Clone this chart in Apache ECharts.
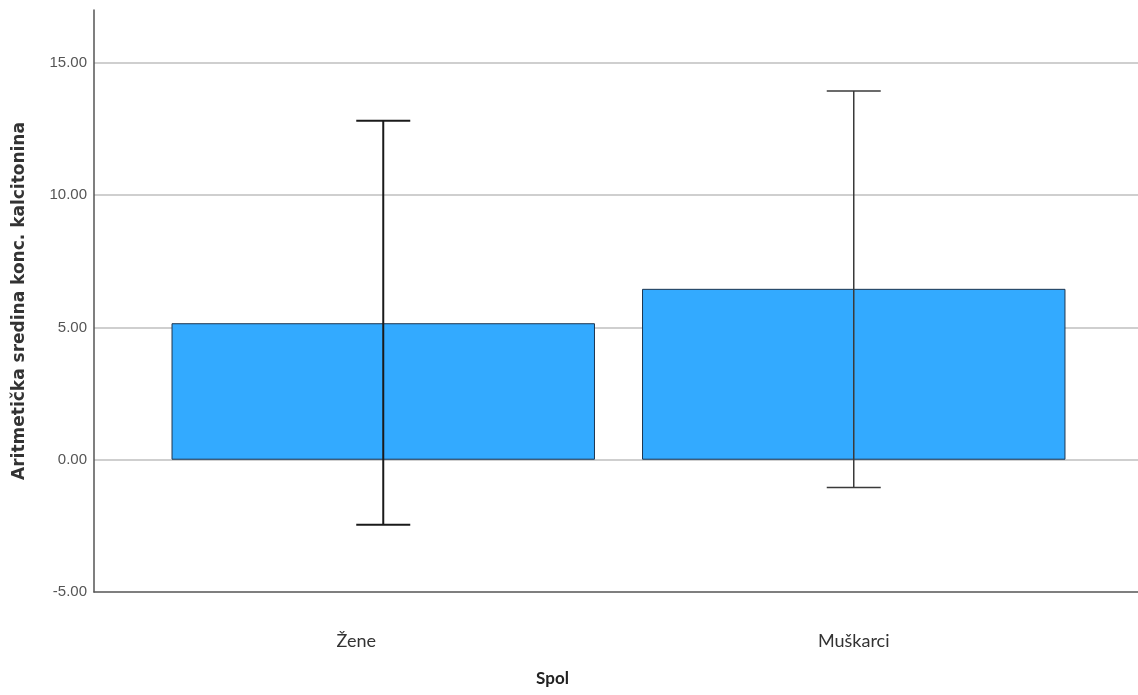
<!DOCTYPE html>
<html>
<head>
<meta charset="utf-8">
<script src="https://cdn.jsdelivr.net/npm/echarts@6/dist/echarts.min.js"></script>
<style>html,body{margin:0;padding:0;background:#fff}#c{width:1138px;height:695px}</style>
</head>
<body>
<div id="c"></div>
<script>
const categories = ['Žene', 'Muškarci'];
const means = [5.16, 6.46];
const errLow = [-2.46, -1.05];
const errHigh = [12.81, 13.94];
const yTicks = { min: -5, max: 17, interval: 5 };
const xTitle = 'Spol';
const yTitle = 'Aritmetička sredina konc. kalcitonina';

const chart = echarts.init(document.getElementById('c'), null, { renderer: 'canvas' });
const TOP = 10, BOTTOM = 103;
const errWidths = [2, 1.5];
const errColors = ['#1a1a1a', '#3a3a3a'];
const labelShift = [54, 0];

chart.setOption({
  animation: false,
  backgroundColor: '#fff',
  grid: [
    { left: 94, right: 0, top: TOP, bottom: BOTTOM },
    { left: 148, right: 49, top: TOP, bottom: BOTTOM }
  ],
  xAxis: [
    { gridIndex: 0, type: 'value', min: 0, max: 1,
      axisLine: { show: true, onZero: false, lineStyle: { color: '#555', width: 1.5 } },
      axisTick: { show: false }, axisLabel: { show: false }, splitLine: { show: false } },
    { gridIndex: 1, type: 'category', data: categories,
      axisLine: { show: false, onZero: false }, axisTick: { show: false },
      axisLabel: { margin: 40,
        formatter: (v, i) => '{a' + i + '|' + v + '}',
        rich: {
          a0: { fontFamily: 'Lato', fontSize: 18, color: '#333', padding: [0, labelShift[0], 0, 0] },
          a1: { fontFamily: 'Lato', fontSize: 18, color: '#333', padding: [0, labelShift[1], 0, 0] }
        } },
      name: xTitle, nameLocation: 'middle', nameGap: 78,
      nameTextStyle: { fontFamily: 'Lato', fontWeight: 'bold', fontSize: 17, color: '#222', padding: [0, 132, 0, 0] } }
  ],
  yAxis: [
    { gridIndex: 0, type: 'value', min: yTicks.min, max: yTicks.max, interval: yTicks.interval,
      axisLine: { show: true, lineStyle: { color: '#555', width: 1.5 } },
      axisTick: { show: false },
      axisLabel: { showMaxLabel: false, margin: 7, fontFamily: 'Liberation Sans', fontSize: 15, color: '#555',
        formatter: v => v.toFixed(2) },
      splitLine: { show: true, lineStyle: { color: ['transparent', '#cfcfcf', '#cfcfcf', '#cfcfcf', '#cfcfcf', 'transparent'], width: 2 } },
      name: yTitle, nameLocation: 'middle', nameGap: 66,
      nameTextStyle: { fontFamily: 'DejaVu Sans', fontWeight: 'bold', fontSize: 17, color: '#333' } },
    { gridIndex: 1, type: 'value', min: yTicks.min, max: yTicks.max, interval: yTicks.interval,
      show: false }
  ],
  series: [
    { type: 'bar', xAxisIndex: 1, yAxisIndex: 1, data: means, barWidth: '90%',
      itemStyle: { color: '#33aaff', borderColor: '#1d3550', borderWidth: 1 } },
    { type: 'custom', xAxisIndex: 1, yAxisIndex: 1, z: 10,
      data: categories.map((c, i) => [i, errLow[i], errHigh[i]]),
      renderItem: function (params, api) {
        const i = api.value(0);
        const lo = api.coord([i, api.value(1)]);
        const hi = api.coord([i, api.value(2)]);
        const hw = 27;
        const style = { stroke: errColors[i], lineWidth: errWidths[i] };
        return { type: 'group', children: [
          { type: 'line', shape: { x1: lo[0], y1: lo[1], x2: hi[0], y2: hi[1] }, style },
          { type: 'line', shape: { x1: hi[0] - hw, y1: hi[1], x2: hi[0] + hw, y2: hi[1] }, style },
          { type: 'line', shape: { x1: lo[0] - hw, y1: lo[1], x2: lo[0] + hw, y2: lo[1] }, style }
        ] };
      } }
  ]
});
</script>
</body>
</html>
